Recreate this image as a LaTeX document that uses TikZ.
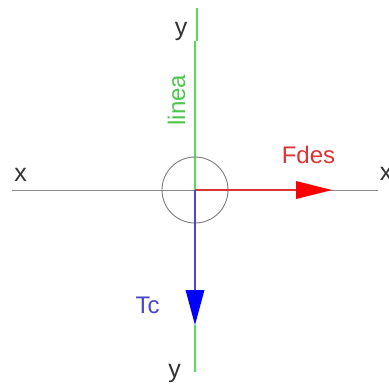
\documentclass[tikz,border=0pt]{standalone}
\usepackage{fontspec}
\setmainfont{Liberation Sans}
\usetikzlibrary{calc}
\definecolor{lgreen}{HTML}{55DD55}
\definecolor{lred}{HTML}{DD3333}
\definecolor{lblue}{HTML}{4848C8}
\definecolor{axisgray}{HTML}{8A8A8A}
\definecolor{labgray}{HTML}{333333}
\begin{document}
\begin{tikzpicture}[x=1pt,y=-1pt,
  axisline/.style={draw=axisgray,line width=0.9pt},
  greenline/.style={draw=lgreen,line width=1.6pt},
  redline/.style={draw=lred,line width=1.4pt},
  blueline/.style={draw=lblue,line width=1.4pt},
  axislabel/.style={text=labgray,font=\fontsize{25}{25}\selectfont,anchor=base,inner sep=0pt},
  forcelabel/.style={font=\fontsize{24}{24}\selectfont,anchor=base,inner sep=0pt}]
\useasboundingbox (0,0) rectangle (389,388);
\fill[white] (0,0) rectangle (389,388);
% coordinates
\coordinate (o) at (195,190);
\coordinate (xl) at (12,190);
\coordinate (xr) at (378,190);
\coordinate (gt) at (197,8);
\coordinate (gj1) at (197,41);
\coordinate (gj2) at (195,41);
\coordinate (gb) at (195,372);
\coordinate (rb) at (296,190);
\coordinate (rt) at (332,190);
\coordinate (bb) at (195,290);
\coordinate (bt) at (195,325);
% horizontal axis
\draw[axisline] (xl) -- (xr);
% green line
\draw[greenline] (gt) -- (gj1);
\draw[greenline] (gj2) -- (o);
\draw[greenline] (bt) -- (gb);
% circle
\node[circle,draw=axisgray!90!black,line width=0.9pt,minimum size=66pt,inner sep=0pt] (circ) at (o) {};
% red force
\draw[redline] (o) -- (rb);
\fill[red] ($(rb)+(0,-9)$) -- (rt) -- ($(rb)+(0,9)$) -- cycle;
% blue force
\draw[blueline] (o) -- (bb);
\fill[blue] ($(bb)+(-9.5,0)$) -- (bt) -- ($(bb)+(9.5,0)$) -- cycle;
% labels
\node[axislabel] (ytop) at (181,35) {y};
\node[axislabel] (ybot) at (174.5,377) {y};
\node[axislabel] (xleft) at (20.5,181) {x};
\node[axislabel] (xright) at (386,180) {x};
\node[forcelabel,text=lred] (fdes) at (308.5,163) {Fdes};
\node[forcelabel,text=lblue] (tc) at (147.5,313) {Tc};
\node[forcelabel,text=lgreen!90!black,rotate=90] (linea) at (185,100) {linea};
\end{tikzpicture}
\end{document}
